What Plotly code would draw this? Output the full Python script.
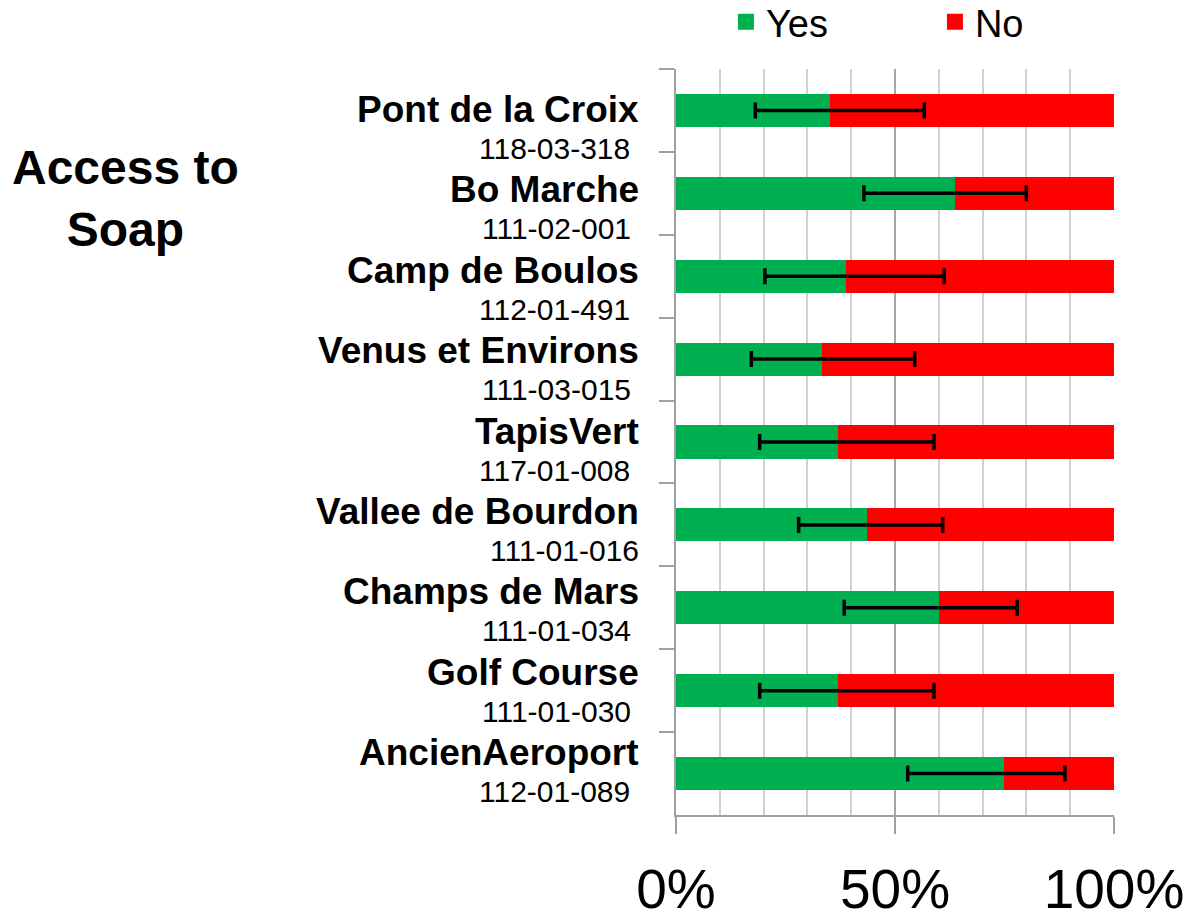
import plotly.graph_objects as go

# ---- data ----
sites = ["Pont de la Croix", "Bo Marche", "Camp de Boulos", "Venus et Environs",
         "TapisVert", "Vallee de Bourdon", "Champs de Mars", "Golf Course", "AncienAeroport"]
codes = ["118-03-318 ", "111-02-001 ", "112-01-491 ", "111-03-015 ", "117-01-008 ",
         "111-01-016", "111-01-034 ", "111-01-030 ", "112-01-089 "]
yes_pct = [35.2, 63.8, 38.8, 33.3, 36.9, 43.7, 60.0, 36.9, 74.9]
ci_low = [18.1, 42.9, 20.3, 17.2, 19.1, 28.0, 38.4, 19.1, 52.9]
ci_high = [56.7, 80.0, 61.2, 54.5, 58.9, 60.9, 77.9, 58.9, 88.8]
no_pct = [100 - v for v in yes_pct]
x_ticks = [0, 50, 100]
x_ticktext = ["0%", "50%", "100%"]

GREEN = "#00B050"
RED = "#FF0000"
FONT = "Arial, Liberation Sans, sans-serif"

fig = go.Figure()
fig.add_trace(go.Bar(y=sites, x=yes_pct, orientation="h", name="Yes", showlegend=False,
                     marker=dict(color=GREEN, line=dict(width=0))))
fig.add_trace(go.Bar(y=sites, x=no_pct, orientation="h", name="No", showlegend=False,
                     marker=dict(color=RED, line=dict(width=0))))
fig.add_trace(go.Scatter(
    y=sites, x=yes_pct, mode="markers", showlegend=False, hoverinfo="skip",
    marker=dict(color="rgba(0,0,0,0)", size=1),
    error_x=dict(type="data", symmetric=False,
                 array=[h - v for h, v in zip(ci_high, yes_pct)],
                 arrayminus=[v - l for v, l in zip(yes_pct, ci_low)],
                 color="black", thickness=3.5, width=8)))
# legend entries with larger square swatches
for nm, col in (("Yes", GREEN), ("No", RED)):
    fig.add_trace(go.Scatter(x=[None], y=[None], mode="markers", name=nm,
                             marker=dict(symbol="square", size=19, color=col)))

annotations = []
for i, (s, c) in enumerate(zip(sites, codes)):
    drift = i * 2.5
    annotations.append(dict(
        xref="paper", yref="y", x=0, y=s, xanchor="right", yanchor="middle",
        xshift=-35, yshift=1 + drift, showarrow=False,
        text="<b>%s</b>" % s, font=dict(family=FONT, size=37, color="black")))
    annotations.append(dict(
        xref="paper", yref="y", x=0, y=s, xanchor="right", yanchor="middle",
        xshift=-35, yshift=-38 + drift, showarrow=False,
        text=c.replace(" ", "\u00a0"), font=dict(family=FONT, size=30, color="black")))

annotations.append(dict(
    xref="paper", yref="paper", x=0, y=0.826, xshift=-551, xanchor="center",
    yanchor="middle", showarrow=False, align="center",
    text="<b>Access to<br>Soap</b>", font=dict(family=FONT, size=48, color="black")))

fig.update_layout(
    width=1196, height=920,
    margin=dict(l=676, r=82, t=69, b=105, autoexpand=False),
    paper_bgcolor="white", plot_bgcolor="white",
    barmode="stack", bargap=0.6,
    font=dict(family=FONT, color="black"),
    showlegend=True,
    legend=dict(orientation="h", x=0.114, xanchor="left", y=1.063, yanchor="middle",
                font=dict(family=FONT, size=38, color="black"),
                entrywidth=164, entrywidthmode="pixels", traceorder="normal",
                itemsizing="trace", bgcolor="rgba(0,0,0,0)"),
    annotations=annotations,
)
fig.update_xaxes(
    range=[0, 100], tickvals=x_ticks, ticktext=x_ticktext,
    tickfont=dict(family=FONT, size=55, color="black"),
    showgrid=True, gridcolor="#a6a6a6", gridwidth=2,
    minor=dict(dtick=10, showgrid=True, gridcolor="#d0d0d0", gridwidth=2),
    showline=True, linecolor="#a0a0a0", linewidth=2,
    ticks="outside", ticklen=17, tickcolor="#a0a0a0", tickwidth=2,
    ticklabelstandoff=8, zeroline=False, fixedrange=True, automargin=False,
)
fig.update_yaxes(
    categoryorder="array", categoryarray=sites, range=[len(sites) - 0.5, -0.5],
    showticklabels=False, showgrid=False, zeroline=False, automargin=False,
    showline=True, linecolor="#a0a0a0", linewidth=2,
    tickson="boundaries", ticks="outside", ticklen=15, tickcolor="#a0a0a0", tickwidth=2,
)

fig.write_html("out.html", config={"displayModeBar": False},
               post_script="document.body.style.margin='0';document.body.style.overflow='hidden';")
